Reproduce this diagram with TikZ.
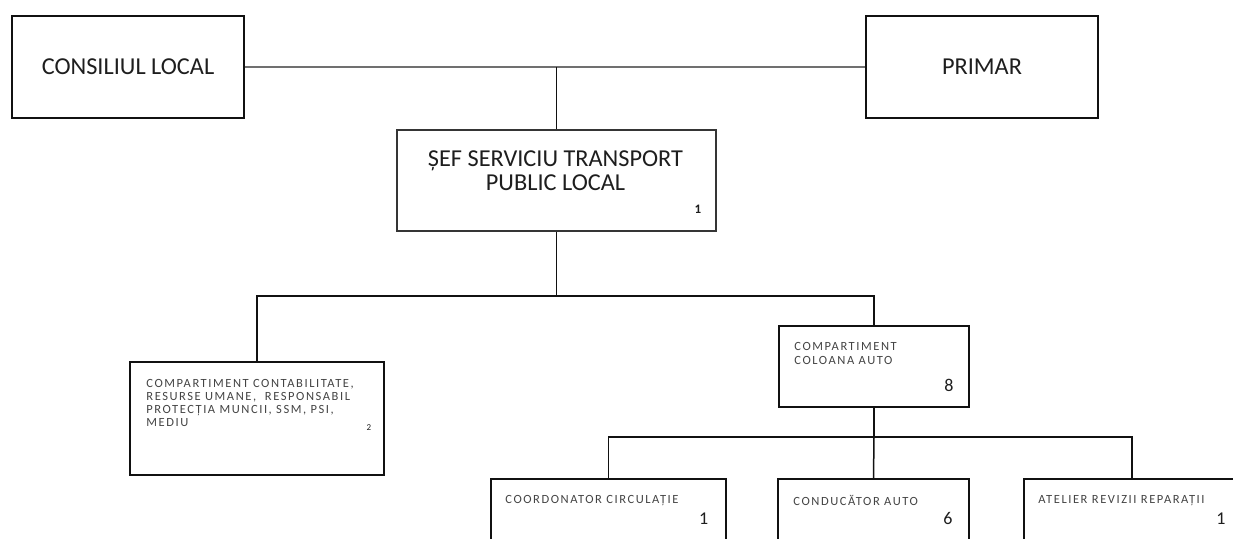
\documentclass[tikz,border=0pt]{standalone}
\usepackage{fontspec}
\setmainfont{Carlito}
\newfontfamily\smallfont[LetterSpace=12.5]{Carlito}
\usetikzlibrary{positioning}
\definecolor{oLine}{HTML}{111111}
\definecolor{oGray}{HTML}{707070}
\definecolor{oText}{HTML}{1E1E1E}
\definecolor{oSmall}{HTML}{444444}

\begin{document}
\begin{tikzpicture}[x=1pt, y=-1pt,
  box/.style={draw=oLine, line width=1.6pt, fill=white, inner sep=0pt},
  big/.style={font=\fontsize{24.3}{24}\selectfont, text=oText, align=center},
  small/.style={font=\smallfont\fontsize{12.5}{13}\selectfont, text=oSmall,
               align=left, inner sep=0pt, anchor=north west},
  num/.style={font=\fontsize{18}{18}\selectfont, text=oText, inner sep=0pt},
  link/.style={draw=oLine, line width=1.5pt},
  topline/.style={draw=oGray, line width=1.3pt},
]
  \clip (0,0) rectangle (1233,538);
  \fill[white] (0,0) rectangle (1233,538);

  % Top level
  \node[box, big, minimum width=232pt, minimum height=102pt] (cons) at (128,67) {CONSILIUL LOCAL};
  \node[box, big, minimum width=232pt, minimum height=102pt] (primar) at (982,67) {PRIMAR};

  % Head of service
  \node[box, draw=oLine!85, minimum width=319pt, minimum height=101pt] (sef) at (556.5,180.5) {};
  \node[big, inner sep=0pt] (sefT) at ([shift={(-1,-10)}]sef.center) {ȘEF SERVICIU TRANSPORT\\PUBLIC LOCAL};
  \node[num, font=\bfseries\fontsize{13}{13}\selectfont] (sefN) at ([shift={(-19,80)}]sef.north east) {1};

  % Departments
  \node[box, minimum width=254pt, minimum height=113pt] (contab) at (257,418.5) {};
  \node[small] (contabT) at ([shift={(17,18)}]contab.north west)
    {COMPARTIMENT CONTABILITATE,\\RESURSE UMANE,~ RESPONSABIL\\PROTECȚIA MUNCII, SSM, PSI,\\MEDIU};
  \node[num, font=\fontsize{9}{9}\selectfont] (contabN) at ([shift={(-16,66)}]contab.north east) {2};

  \node[box, minimum width=190pt, minimum height=81pt] (coloana) at (874,366.5) {};
  \node[small, font=\smallfont\fontsize{12.5}{14}\selectfont] (coloanaT) at ([shift={(16,17)}]coloana.north west)
    {COMPARTIMENT\\COLOANA AUTO};
  \node[num] (coloanaN) at ([shift={(-21,60)}]coloana.north east) {8};

  % Units
  \node[box, minimum width=235pt, minimum height=100pt] (coord) at (608.5,529) {};
  \node[small] (coordT) at ([shift={(15,17)}]coord.north west) {COORDONATOR CIRCULAȚIE};
  \node[num] (coordN) at ([shift={(-23,40)}]coord.north east) {1};

  \node[box, minimum width=191pt, minimum height=100pt] (cond) at (873.5,529) {};
  \node[small] (condT) at ([shift={(16,17)}]cond.north west) {CONDUCĂTOR AUTO};
  \node[num] (condN) at ([shift={(-22,40)}]cond.north east) {6};

  \node[box, minimum width=216pt, minimum height=100pt] (atelier) at (1132,529) {};
  \node[small] (atelierT) at ([shift={(15,17)}]atelier.north west) {ATELIER REVIZII REPARAȚII};
  \node[num] (atelierN) at ([shift={(-20,40)}]atelier.north east) {1};

  % Connectors
  \coordinate (top) at (sef.north |- cons.east);
  \coordinate (bus1) at (556.5,296);
  \coordinate (bus2) at (874,437);
  \draw[topline] (cons) -- (primar);
  \draw[link] (sef.north) -- (top);
  \draw[link] (sef.south) -- (bus1);
  \draw[link] (contab.north) |- (bus1) -| (coloana.north);
  \draw[link] (coloana.south) -- (bus2);
  \draw[link] (coord.north) |- (bus2) -| (atelier.north);
  \draw[link] (bus2) -- (cond.north);
\end{tikzpicture}
\end{document}
